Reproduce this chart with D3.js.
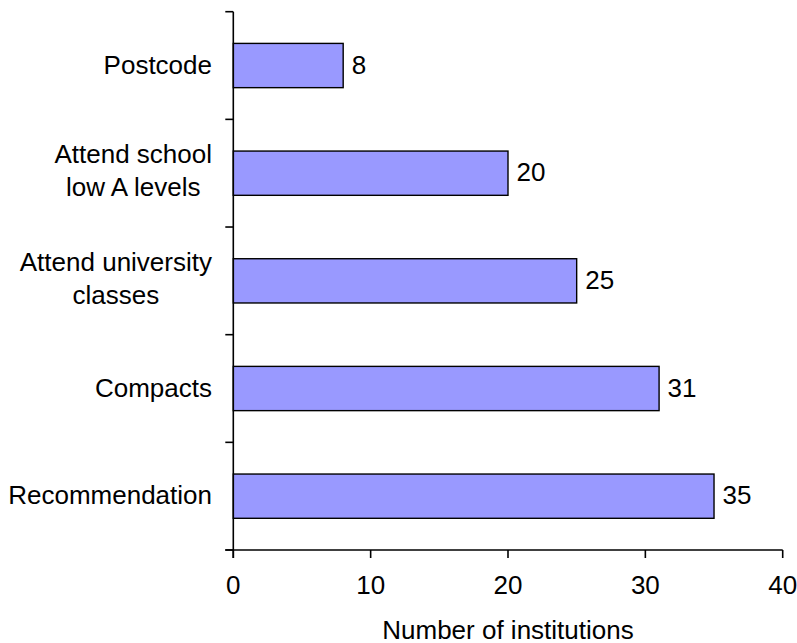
<!DOCTYPE html>
<html>
<head>
<meta charset="utf-8">
<script src="https://cdn.jsdelivr.net/npm/d3@7"></script>
<style>
  html, body { margin: 0; padding: 0; background: #fff; }
  svg { display: block; }
  text { font-family: "Liberation Sans", Arial, sans-serif; fill: #000; }
</style>
</head>
<body>
<svg id="chart" width="797" height="643"></svg>
<script>
const categories = ["Postcode", "Attend school\nlow A levels", "Attend university\nclasses", "Compacts", "Recommendation"];
const values = [8, 20, 25, 31, 35];
const xTicks = [0, 10, 20, 30, 40];
const xTitle = "Number of institutions";

const svg = d3.select("#chart");
const fontSize = 26;
const plotLeft = 233.3, plotRight = 782.7, plotTop = 11.7, plotBottom = 550;

const x = d3.scaleLinear().domain([0, 40]).range([plotLeft, plotRight]);
const y = d3.scaleBand().domain(categories).range([plotTop, plotBottom]).paddingInner(0).paddingOuter(0);
const barFrac = 0.411;

// bars
svg.append("g").selectAll("rect")
  .data(categories)
  .join("rect")
  .attr("x", x(0))
  .attr("y", d => y(d) + y.bandwidth() * (1 - barFrac) / 2)
  .attr("width", (d, i) => x(values[i]) - x(0))
  .attr("height", y.bandwidth() * barFrac)
  .attr("fill", "#9999FF")
  .attr("stroke", "#000")
  .attr("stroke-width", 1.4);

// value labels
svg.append("g").selectAll("text")
  .data(categories)
  .join("text")
  .attr("x", (d, i) => x(values[i]) + 8.5)
  .attr("y", d => y(d) + y.bandwidth() / 2 + 8.3)
  .attr("font-size", fontSize)
  .text((d, i) => values[i]);

// axes lines
const axisG = svg.append("g").attr("stroke", "#000").attr("stroke-width", 1.6).attr("fill", "none");
axisG.append("line").attr("x1", plotLeft).attr("x2", plotLeft).attr("y1", plotTop).attr("y2", plotBottom + 8);
axisG.append("line").attr("x1", plotLeft - 8).attr("x2", plotRight).attr("y1", plotBottom).attr("y2", plotBottom);
// y ticks at band boundaries
const yBounds = categories.map(c => y(c)).concat([plotBottom]);
axisG.selectAll("line.yt").data(yBounds).join("line")
  .attr("class", "yt")
  .attr("x1", plotLeft - 8).attr("x2", plotLeft)
  .attr("y1", d => d).attr("y2", d => d);
// x ticks
axisG.selectAll("line.xt").data(xTicks).join("line")
  .attr("class", "xt")
  .attr("x1", d => x(d)).attr("x2", d => x(d))
  .attr("y1", plotBottom).attr("y2", plotBottom + 8);

// x tick labels
svg.append("g").selectAll("text")
  .data(xTicks)
  .join("text")
  .attr("x", d => x(d))
  .attr("y", 594)
  .attr("text-anchor", "middle")
  .attr("font-size", fontSize)
  .text(d => d);

// x title
svg.append("text")
  .attr("x", (plotLeft + plotRight) / 2)
  .attr("y", 638.5)
  .attr("text-anchor", "middle")
  .attr("font-size", fontSize)
  .text(xTitle);

// category labels (multi-line, lines centered, block right-aligned)
const labelRight = 212;
const lineH = 32.7;
categories.forEach(c => {
  const lines = c.split("\n");
  const cy = y(c) + y.bandwidth() / 2;
  const g = svg.append("g");
  const texts = lines.map((ln, j) => g.append("text")
    .attr("font-size", fontSize)
    .attr("y", cy + 8.3 - (lines.length - 1) * lineH / 2 + j * lineH + (lines.length > 1 ? -2 : 0))
    .text(ln));
  const maxW = d3.max(texts, t => t.node().getComputedTextLength());
  texts.forEach(t => t.attr("text-anchor", "middle").attr("x", labelRight - maxW / 2));
});
</script>
</body>
</html>
